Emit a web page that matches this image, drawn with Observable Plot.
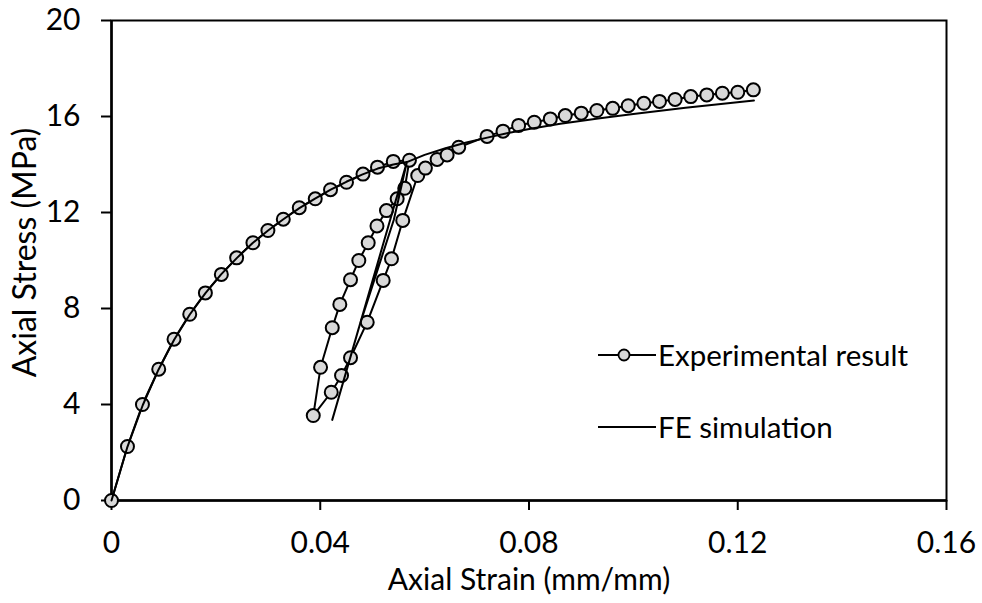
<!DOCTYPE html>
<html>
<head>
<meta charset="utf-8">
<script src="https://cdn.jsdelivr.net/npm/d3@7"></script>
<script src="https://cdn.jsdelivr.net/npm/@observablehq/plot@0.6"></script>
<style>
  html, body { margin: 0; padding: 0; background: #fff; }
  #wrap { position: relative; width: 982px; height: 603px; font-family: Lato, "Open Sans", sans-serif; }
  #legend { position: absolute; left: 0; top: 0; }
</style>
</head>
<body>
<div id="wrap"></div>
<script>
// ---- Data ----
const xTickValues = [0, 0.04, 0.08, 0.12, 0.16];
const xTickLabels = ["0", "0.04", "0.08", "0.12", "0.16"];
const yTickValues = [0, 4, 8, 12, 16, 20];
const yTickLabels = ["0", "4", "8", "12", "16", "20"];

// Experimental result: loading, unloading, reloading, continued loading (in test order)
const expStrain = [
  0, 0.00306, 0.00593, 0.00905, 0.01198, 0.01499, 0.01799, 0.02105, 0.02398, 0.0271,
  0.02997, 0.03292, 0.03598, 0.03904, 0.04197, 0.04503, 0.04819, 0.05097, 0.05399, 0.05709,
  0.05619, 0.05474, 0.05269, 0.05087, 0.04919, 0.04739, 0.0458, 0.04375, 0.0423, 0.04006, 0.03866,
  0.04211, 0.04408, 0.0458, 0.049, 0.05206, 0.05365, 0.05581, 0.05868, 0.06015, 0.06239, 0.06431, 0.06653,
  0.07196, 0.07502, 0.07801, 0.08101, 0.08408, 0.08695, 0.09001, 0.09301, 0.09604, 0.09901,
  0.10201, 0.105, 0.108, 0.111, 0.11407, 0.11705, 0.12, 0.12299
];
const expStress = [
  0, 2.25, 4.0, 5.47, 6.72, 7.76, 8.65, 9.42, 10.11, 10.74,
  11.25, 11.72, 12.2, 12.57, 12.95, 13.26, 13.6, 13.89, 14.13, 14.18,
  13.01, 12.57, 12.08, 11.44, 10.74, 10.0, 9.2, 8.17, 7.2, 5.55, 3.54,
  4.51, 5.21, 5.95, 7.43, 9.17, 10.07, 11.67, 13.54, 13.85, 14.21, 14.4, 14.72,
  15.17, 15.39, 15.63, 15.76, 15.9, 16.04, 16.14, 16.25, 16.34, 16.45,
  16.55, 16.63, 16.71, 16.83, 16.9, 16.97, 17.01, 17.11
];

// FE simulation: loading, unloading, reloading, continued loading
const feStrain = [
  0, 0.003, 0.006, 0.009, 0.012, 0.015, 0.018, 0.021, 0.024, 0.027,
  0.03, 0.033, 0.036, 0.039, 0.042, 0.045, 0.048, 0.051, 0.054, 0.0566,
  0.0423,
  0.0474, 0.0541, 0.0566,
  0.06, 0.064, 0.068, 0.072, 0.076, 0.0803, 0.086, 0.0936, 0.1, 0.11, 0.1231
];
const feStress = [
  0, 2.2, 3.98, 5.45, 6.7, 7.75, 8.64, 9.42, 10.1, 10.72,
  11.25, 11.73, 12.18, 12.58, 12.95, 13.28, 13.58, 13.83, 14.0, 14.1,
  3.36,
  7.2, 11.7, 14.1,
  14.4, 14.68, 14.92, 15.12, 15.31, 15.49, 15.7, 15.93, 16.1, 16.36, 16.67
];

const expData = expStrain.map((x, i) => ({x, y: expStress[i]}));
const feData = feStrain.map((x, i) => ({x, y: feStress[i]}));

const FONT = "Lato, 'Open Sans', sans-serif";
const FS = 30;

const chart = Plot.plot({
  width: 982,
  height: 603,
  marginLeft: 111,
  marginRight: 36,
  marginTop: 20,
  marginBottom: 103,
  style: {fontFamily: FONT, fontSize: FS + "px", color: "#000", background: "#fff", overflow: "visible"},
  x: {domain: [0, 0.16]},
  y: {domain: [0, 20]},
  marks: [
    Plot.frame({stroke: "#000", strokeWidth: 2}),
    Plot.axisX({
      ticks: xTickValues,
      tickFormat: d => xTickLabels[xTickValues.indexOf(d)],
      tickSize: 10, tickPadding: 21, strokeWidth: 2, fontSize: FS, label: null
    }),
    Plot.axisY({
      ticks: yTickValues,
      tickFormat: d => yTickLabels[yTickValues.indexOf(d)],
      tickSize: 10, tickPadding: 21, strokeWidth: 2, fontSize: FS, label: null
    }),
    Plot.ruleY([0], {stroke: "#000", strokeWidth: 2.5}),
    Plot.ruleX([0], {stroke: "#000", strokeWidth: 2.5}),
    Plot.line(expData, {x: "x", y: "y", stroke: "#000", strokeWidth: 2}),
    Plot.dot(expData, {x: "x", y: "y", r: 6.5, fill: "#d9d9d9", stroke: "#000", strokeWidth: 2}),
    Plot.line(feData, {x: "x", y: "y", stroke: "#000", strokeWidth: 2}),
    Plot.text(["Axial Strain (mm/mm)"], {frameAnchor: "bottom", dy: 80, lineAnchor: "middle", textAnchor: "middle", fontSize: FS, fill: "#000"}),
    Plot.text(["Axial Stress (MPa)"], {frameAnchor: "left", dx: -86, dy: -8, rotate: -90, lineAnchor: "middle", textAnchor: "middle", fontSize: 32, fill: "#000"})
  ]
});

const wrap = document.getElementById("wrap");
wrap.appendChild(chart);

// Legend overlay
const lg = d3.select(wrap).append("svg")
  .attr("id", "legend")
  .attr("width", 982).attr("height", 603)
  .style("font-family", FONT).style("font-size", "29.5px");

const legendItems = [
  {label: "Experimental result", marker: true, y: 355},
  {label: "FE simulation", marker: false, y: 427}
];
legendItems.forEach(it => {
  const g = lg.append("g").attr("transform", `translate(598,${it.y})`);
  g.append("line").attr("x1", 0).attr("x2", 58).attr("y1", 0).attr("y2", 0)
    .attr("stroke", "#000").attr("stroke-width", 2);
  if (it.marker) {
    g.append("circle").attr("cx", 26).attr("cy", 0).attr("r", 5.5)
      .attr("fill", "#d9d9d9").attr("stroke", "#000").attr("stroke-width", 1.8);
  }
  g.append("text").attr("x", 60).attr("y", 0).attr("dy", "0.36em")
    .attr("fill", "#000").text(it.label);
});
</script>
</body>
</html>
